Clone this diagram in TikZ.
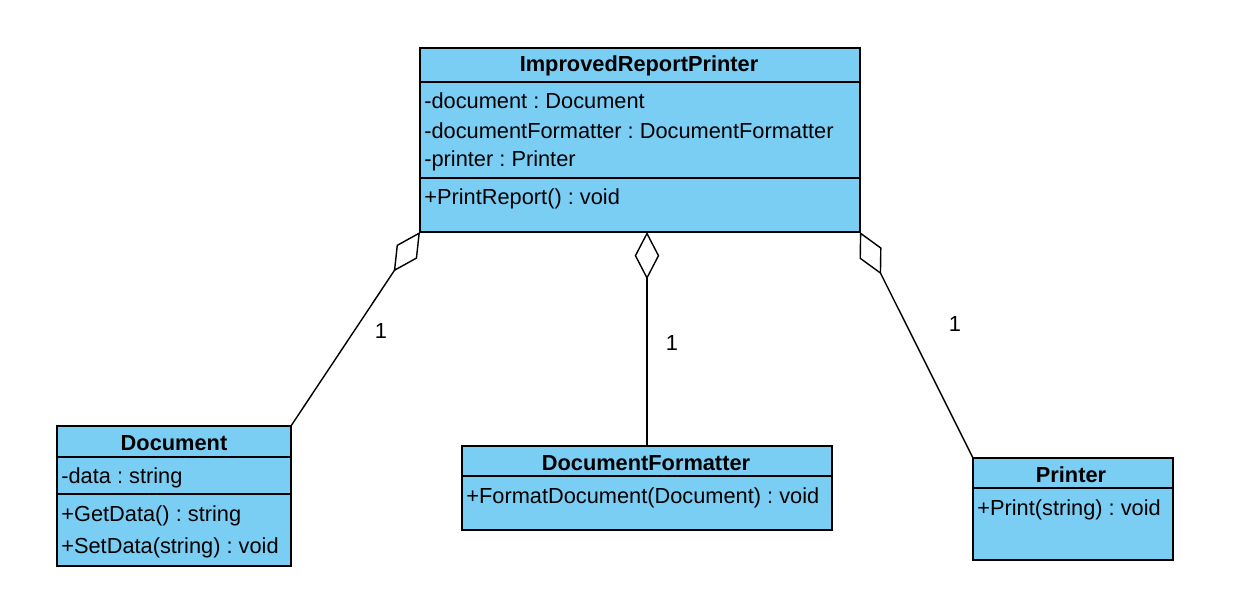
\documentclass[tikz,border=0pt]{standalone}
\usepackage{fontspec}
\setmainfont{Liberation Sans}
\usetikzlibrary{arrows.meta}
\frenchspacing
\definecolor{classblue}{RGB}{122,206,244}
\tikzset{
  classbox/.style={draw, fill=classblue, line width=0.8pt, inner sep=0pt, outer sep=0pt, anchor=north west},
  member/.style={anchor=west, inner sep=0pt, font=\fontsize{12.4}{14}\selectfont},
  classname/.style={inner sep=0pt, font=\fontsize{12.4}{14}\selectfont\bfseries},
  divider/.style={line width=0.8pt},
  aggr/.style={line width=0.8pt, -{Diamond[open, length=27pt, width=14pt, line width=0.8pt]}},
  mult/.style={inner sep=1pt, font=\fontsize{12.4}{14}\selectfont}
}

\begin{document}
\begin{tikzpicture}[x=0.02cm, y=-0.02cm]
	%%%%% START %%%%%
	\useasboundingbox (0, 0) rectangle (1251, 615);
	
	% ImprovedReportPrinter
	\node[classbox, minimum width=8.8cm, minimum height=3.68cm] (irp) at (420, 48) {};
	\draw[divider] (420, 82) -- (860, 82);
	\draw[divider] (420, 178) -- (860, 178);
	\node[classname] (irpname) at (639, 66) {ImprovedReportPrinter};
	\node[member] (irpa1) at (424, 101) {-document : Document};
	\node[member] (irpa2) at (424, 131) {-documentFormatter : DocumentFormatter};
	\node[member] (irpa3) at (424, 161) {-printer : Printer};
	\node[member] (irpm1) at (424, 199) {+PrintReport() : void};
	
	% Document
	\node[classbox, minimum width=4.68cm, minimum height=2.8cm] (doc) at (57, 426) {};
	\draw[divider] (57, 457) -- (291, 457);
	\draw[divider] (57, 494) -- (291, 494);
	\node[classname] (docname) at (174, 443) {Document};
	\node[member] (doca1) at (61, 478) {-data : string};
	\node[member] (docm1) at (61, 516) {+GetData() : string};
	\node[member] (docm2) at (61, 548) {+SetData(string) : void};
	
	% DocumentFormatter
	\node[classbox, minimum width=7.4cm, minimum height=1.68cm] (fmt) at (462, 446) {};
	\draw[divider] (462, 476) -- (832, 476);
	\node[classname] (fmtname) at (646, 463) {DocumentFormatter};
	\node[member] (fmtm1) at (466, 498) {+FormatDocument(Document) : void};
	
	% Printer
	\node[classbox, minimum width=4cm, minimum height=2.04cm] (prn) at (973, 458) {};
	\draw[divider] (973, 488) -- (1173, 488);
	\node[classname] (prnname) at (1071, 475) {Printer};
	\node[member] (prnm1) at (977, 510) {+Print(string) : void};
	
	% aggregations
	\draw[aggr] (doc.north east) -- (irp.south west);
	\draw[aggr] (fmt.north) -- (fmt.north |- irp.south);
	\draw[aggr] (prn.north west) -- (irp.south east);
	
	\node[mult] (m1) at (381, 331) {1};
	\node[mult] (m2) at (672, 343) {1};
	\node[mult] (m3) at (955, 324) {1};
	
	%%%%% END %%%%%
\end{tikzpicture}
\end{document}
